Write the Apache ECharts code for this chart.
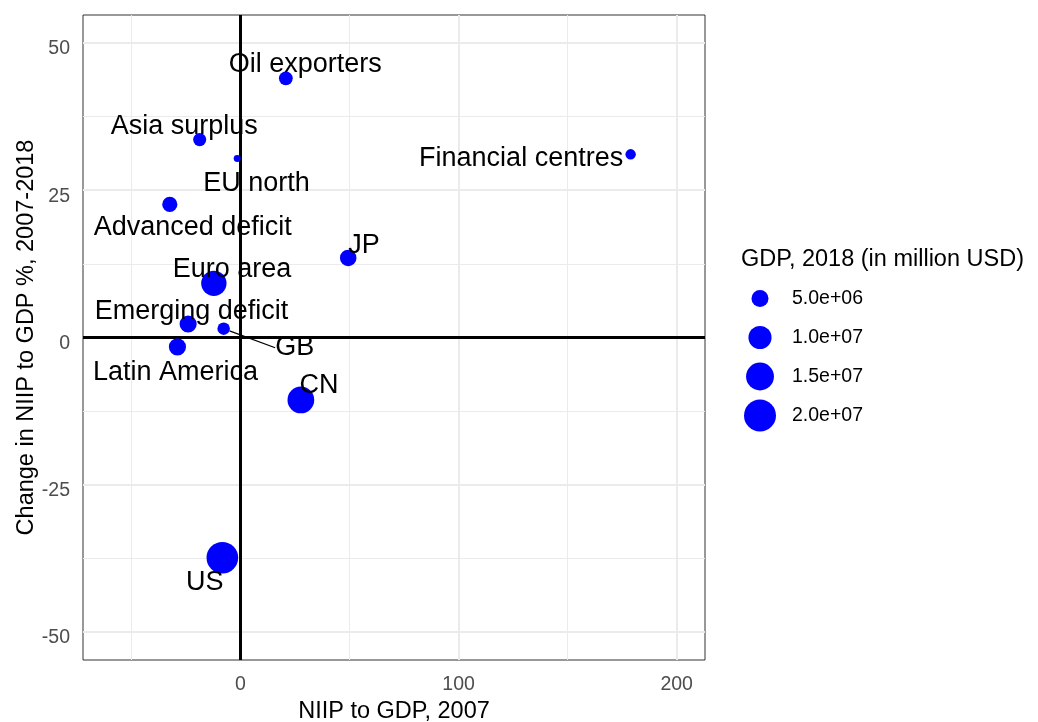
<!DOCTYPE html>
<html>
<head>
<meta charset="utf-8"/>
<title>NIIP change</title>
<script src="https://cdn.jsdelivr.net/npm/echarts@6/dist/echarts.min.js"></script>
<style>
body{margin:0;background:#fff;}
#chart{width:1038px;height:722px;}
</style>
</head>
<body>
<div id="chart"></div>
<script>
// groups, NIIP to GDP 2007 (x), change 2007-2018 (y), GDP 2018 in million USD
var names = ['Oil exporters', 'Asia surplus', 'EU north', 'Advanced deficit', 'Financial centres', 'JP',
             'Euro area', 'Emerging deficit', 'GB', 'Latin America', 'CN', 'US'];
var niip2007 = [20.8, -18.7, -1.5, -32.4, 178.9, 49.4, -12.2, -24.0, -7.7, -28.9, 27.7, -8.3];
var niipChange = [44.0, 33.6, 30.4, 22.6, 31.1, 13.5, 9.2, 2.3, 1.5, -1.6, -10.6, -37.4];
var gdp2018 = [3.0e6, 2.6e6, 0.1e6, 3.8e6, 1.3e6, 4.7e6, 12.2e6, 5.1e6, 2.3e6, 5.1e6, 13.7e6, 19.5e6];

var xBreaks = [0, 100, 200];
var xMinor = [-50, 50, 150];
var yBreaks = [-50, -25, 0, 25, 50];
var yMinor = [-37.5, -12.5, 12.5, 37.5];

var legendValues = [5e6, 1e7, 1.5e7, 2e7];
var legendLabels = ['5.0e+06', '1.0e+07', '1.5e+07', '2.0e+07'];

// label nudges in px (like ggrepel placed them)
var labelShift = [[19.5, -13.3], [-15.5, -13.5], [19.4, 25.5], [23, 23.3], [-109.5, 4.5], [15.7, -12.8],
                  [18.2, -13.8], [3.4, -12.8], [71, 19.1], [-1.9, 25.2], [18.2, -14.7], [-17.7, 24.5]];

var FONT = 'Liberation Sans, Arial, sans-serif';

function sizeOf(v) {
	return Math.sqrt(44 + 49 * v / 1e6);
}

var points = [];
for (var i = 0; i < names.length; i++) {
	var item = { name: names[i], value: [niip2007[i], niipChange[i], gdp2018[i]] };
	if (names[i] == 'GB') {
		item.labelLine = { show: true, lineStyle: { color: '#000', width: 1.3 } };
	}
	points.push(item);
}

var gridLines = [];
xMinor.forEach(function (v) { gridLines.push({ xAxis: v, lineStyle: { width: 1 } }); });
yMinor.forEach(function (v) { gridLines.push({ yAxis: v, lineStyle: { width: 1 } }); });
xBreaks.forEach(function (v) { gridLines.push({ xAxis: v, lineStyle: { width: 2 } }); });
yBreaks.forEach(function (v) { gridLines.push({ yAxis: v, lineStyle: { width: 2 } }); });

var legendData = [];
for (var j = 0; j < legendValues.length; j++) {
	legendData.push({ value: [0, legendLabels[j]], symbolSize: sizeOf(legendValues[j]) });
}

var myChart = echarts.init(document.getElementById('chart'));
myChart.setOption({
	animation: false,
	textStyle: { fontFamily: FONT },
	title: {
		text: 'GDP, 2018 (in million USD)',
		left: 741, top: 248, padding: 0,
		textStyle: { fontFamily: FONT, fontSize: 23.5, fontWeight: 'normal', color: '#000' }
	},
	grid: [
		{ left: 83, top: 15, right: 333, bottom: 62, outerBoundsMode: 'none', containLabel: false,
		  show: true, borderColor: '#333', borderWidth: 1, backgroundColor: '#fff' },
		{ left: 740, width: 40, top: 279, height: 156, outerBoundsMode: 'none', containLabel: false }
	],
	xAxis: [{
		type: 'value', min: -72.2, max: 213,
		name: 'NIIP to GDP, 2007', nameLocation: 'middle', nameGap: 40, nameMoveOverlap: false,
		nameTextStyle: { fontFamily: FONT, fontSize: 23.5, color: '#000' },
		axisLine: { show: false },
		axisTick: { show: true, length: 6, customValues: xBreaks, lineStyle: { color: '#333', width: 1 } },
		axisLabel: { customValues: xBreaks, margin: 14.5, fontSize: 19.5, color: '#4d4d4d', fontFamily: FONT },
		splitLine: { show: false }
	}, {
		gridIndex: 1, type: 'value', min: -1, max: 1, show: false
	}],
	yAxis: [{
		type: 'value', min: -54.75, max: 54.75,
		name: 'Change in NIIP to GDP %, 2007-2018', nameLocation: 'middle', nameGap: 44, nameRotate: 90,
		nameMoveOverlap: false,
		nameTextStyle: { fontFamily: FONT, fontSize: 23.5, color: '#000' },
		axisLine: { show: false },
		axisTick: { show: true, length: 6, customValues: yBreaks, lineStyle: { color: '#333', width: 1 } },
		axisLabel: { customValues: yBreaks, margin: 13, verticalAlign: 'top', lineHeight: 12,
		             fontSize: 19.5, color: '#4d4d4d', fontFamily: FONT },
		splitLine: { show: false }
	}, {
		gridIndex: 1, type: 'category', data: legendLabels, inverse: true, position: 'right',
		axisLine: { show: false }, axisTick: { show: false }, splitLine: { show: false },
		axisLabel: { margin: 12, fontSize: 19.5, color: '#000', fontFamily: FONT }
	}],
	series: [
		{
			// panel grid
			type: 'line', data: [], z: 1, silent: true,
			markLine: {
				z: 1, silent: true, symbol: 'none', animation: false,
				label: { show: false },
				lineStyle: { color: '#ebebeb', type: 'solid' },
				data: gridLines
			}
		},
		{
			// zero lines
			type: 'line', data: [], z: 2, silent: true,
			markLine: {
				z: 2, silent: true, symbol: 'none', animation: false,
				label: { show: false },
				lineStyle: { color: '#000', width: 3, type: 'solid' },
				data: [{ xAxis: 0 }, { yAxis: 0 }]
			}
		},
		{
			type: 'scatter', z: 3,
			data: points,
			symbolSize: function (v) { return sizeOf(v[2]); },
			itemStyle: { color: '#0000ff', opacity: 1 },
			label: {
				show: true, position: 'inside', formatter: '{b}',
				fontSize: 27, color: '#000', fontFamily: FONT
			},
			labelLine: { show: false },
			labelLayout: function (params) {
				var s = labelShift[params.dataIndex];
				return { dx: s[0], dy: s[1] };
			}
		},
		{
			type: 'scatter', xAxisIndex: 1, yAxisIndex: 1,
			data: legendData,
			itemStyle: { color: '#0000ff', opacity: 1 },
			silent: true
		}
	]
});
</script>
</body>
</html>
